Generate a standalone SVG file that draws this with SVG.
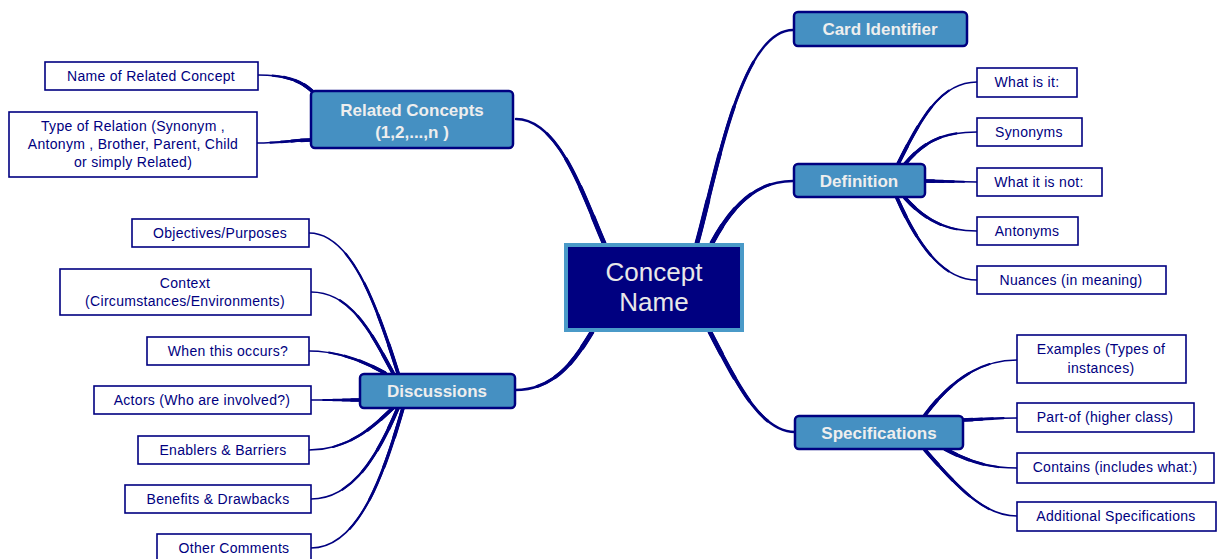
<svg xmlns="http://www.w3.org/2000/svg" xmlns:xlink="http://www.w3.org/1999/xlink" width="1222" height="559" viewBox="0 0 1222 559">
<style>
.c{fill:none;stroke:#000080;stroke-linecap:round}
.m0{stroke-width:2.4}
.m1{stroke-width:3;stroke-dasharray:78 300}
.m2{stroke-width:3.6;stroke-dasharray:58 300}
.m3{stroke-width:4.2;stroke-dasharray:38 300}
.m4{stroke-width:4.8;stroke-dasharray:18 300}
.l0{stroke-width:1.7}
.l1{stroke-width:2.2;stroke-dasharray:75 300}
.l2{stroke-width:2.7;stroke-dasharray:55 300}
.l3{stroke-width:3.2;stroke-dasharray:35 300}
.l4{stroke-width:3.7;stroke-dasharray:17 300}
.mbox{fill:#4590C2;stroke:#000080;stroke-width:2.5}
.mtxt{font-family:"Liberation Sans",Arial,sans-serif;font-weight:bold;font-size:17px;fill:#EEEEEE;text-anchor:middle}
.lbox{fill:#FFFFFF;stroke:#000080;stroke-width:1.6}
.ltxt{font-family:"Liberation Sans",Arial,sans-serif;font-size:14px;letter-spacing:0.3px;fill:#000080;text-anchor:middle}
.ctxt{font-family:"Liberation Sans",Arial,sans-serif;font-size:26px;fill:#E8E8E8;text-anchor:middle}
</style>
<defs>
<path id="m1" pathLength="100" d="M604,243 C585,200 560,119 516,119"/>
<path id="m2" pathLength="100" d="M697,243 C715,180 740,30 793,30"/>
<path id="m3" pathLength="100" d="M712,243 C735,200 760,181 793,181"/>
<path id="m4" pathLength="100" d="M710,332 C735,380 760,432 795,432"/>
<path id="m5" pathLength="100" d="M592,332 C575,360 555,390 515,390"/>
<path id="r1" pathLength="100" d="M312,91 C300,80 285,75 258,75"/>
<path id="r2" pathLength="100" d="M310,140 C295,140 280,143 257,143"/>
<path id="d1" pathLength="100" d="M898,164 C920,120 940,82 977,82"/>
<path id="d2" pathLength="100" d="M905,164 C925,140 945,132 977,132"/>
<path id="d3" pathLength="100" d="M925,181 L977,182"/>
<path id="d4" pathLength="100" d="M905,198 C925,220 945,231 977,231"/>
<path id="d5" pathLength="100" d="M897,198 C920,250 945,280 977,280"/>
<path id="s1" pathLength="100" d="M925,415 C955,375 985,360 1017,360"/>
<path id="s2" pathLength="100" d="M963,420 C985,419 1000,418 1017,418"/>
<path id="s3" pathLength="100" d="M945,449 C975,465 995,468 1017,468"/>
<path id="s4" pathLength="100" d="M925,450 C960,490 985,516 1017,516"/>
<path id="q1" pathLength="100" d="M398,373 C375,300 350,233 309,233"/>
<path id="q2" pathLength="100" d="M393,373 C370,330 350,292 311,292"/>
<path id="q3" pathLength="100" d="M385,373 C365,362 340,351 309,351"/>
<path id="q4" pathLength="100" d="M360,400 L311,400"/>
<path id="q5" pathLength="100" d="M393,408 C375,425 350,450 309,450"/>
<path id="q6" pathLength="100" d="M398,408 C380,450 355,499 311,499"/>
<path id="q7" pathLength="100" d="M403,408 C385,470 360,548 311,548"/>
</defs>
<rect width="1222" height="559" fill="#FFFFFF"/>
<g id="connectors">
<g class="c m0"><use xlink:href="#m1"/><use xlink:href="#m2"/><use xlink:href="#m3"/><use xlink:href="#m4"/><use xlink:href="#m5"/></g>
<g class="c m1"><use xlink:href="#m1"/><use xlink:href="#m2"/><use xlink:href="#m3"/><use xlink:href="#m4"/><use xlink:href="#m5"/></g>
<g class="c m2"><use xlink:href="#m1"/><use xlink:href="#m2"/><use xlink:href="#m3"/><use xlink:href="#m4"/><use xlink:href="#m5"/></g>
<g class="c m3"><use xlink:href="#m1"/><use xlink:href="#m2"/><use xlink:href="#m3"/><use xlink:href="#m4"/><use xlink:href="#m5"/></g>
<g class="c m4"><use xlink:href="#m1"/><use xlink:href="#m2"/><use xlink:href="#m3"/><use xlink:href="#m4"/><use xlink:href="#m5"/></g>
<g class="c l0"><use xlink:href="#r1"/><use xlink:href="#r2"/><use xlink:href="#d1"/><use xlink:href="#d2"/><use xlink:href="#d3"/><use xlink:href="#d4"/><use xlink:href="#d5"/><use xlink:href="#s1"/><use xlink:href="#s2"/><use xlink:href="#s3"/><use xlink:href="#s4"/><use xlink:href="#q1"/><use xlink:href="#q2"/><use xlink:href="#q3"/><use xlink:href="#q4"/><use xlink:href="#q5"/><use xlink:href="#q6"/><use xlink:href="#q7"/></g>
<g class="c l1"><use xlink:href="#r1"/><use xlink:href="#r2"/><use xlink:href="#d1"/><use xlink:href="#d2"/><use xlink:href="#d3"/><use xlink:href="#d4"/><use xlink:href="#d5"/><use xlink:href="#s1"/><use xlink:href="#s2"/><use xlink:href="#s3"/><use xlink:href="#s4"/><use xlink:href="#q1"/><use xlink:href="#q2"/><use xlink:href="#q3"/><use xlink:href="#q4"/><use xlink:href="#q5"/><use xlink:href="#q6"/><use xlink:href="#q7"/></g>
<g class="c l2"><use xlink:href="#r1"/><use xlink:href="#r2"/><use xlink:href="#d1"/><use xlink:href="#d2"/><use xlink:href="#d3"/><use xlink:href="#d4"/><use xlink:href="#d5"/><use xlink:href="#s1"/><use xlink:href="#s2"/><use xlink:href="#s3"/><use xlink:href="#s4"/><use xlink:href="#q1"/><use xlink:href="#q2"/><use xlink:href="#q3"/><use xlink:href="#q4"/><use xlink:href="#q5"/><use xlink:href="#q6"/><use xlink:href="#q7"/></g>
<g class="c l3"><use xlink:href="#r1"/><use xlink:href="#r2"/><use xlink:href="#d1"/><use xlink:href="#d2"/><use xlink:href="#d3"/><use xlink:href="#d4"/><use xlink:href="#d5"/><use xlink:href="#s1"/><use xlink:href="#s2"/><use xlink:href="#s3"/><use xlink:href="#s4"/><use xlink:href="#q1"/><use xlink:href="#q2"/><use xlink:href="#q3"/><use xlink:href="#q4"/><use xlink:href="#q5"/><use xlink:href="#q6"/><use xlink:href="#q7"/></g>
<g class="c l4"><use xlink:href="#r1"/><use xlink:href="#r2"/><use xlink:href="#d1"/><use xlink:href="#d2"/><use xlink:href="#d3"/><use xlink:href="#d4"/><use xlink:href="#d5"/><use xlink:href="#s1"/><use xlink:href="#s2"/><use xlink:href="#s3"/><use xlink:href="#s4"/><use xlink:href="#q1"/><use xlink:href="#q2"/><use xlink:href="#q3"/><use xlink:href="#q4"/><use xlink:href="#q5"/><use xlink:href="#q6"/><use xlink:href="#q7"/></g>
</g>
<g id="concept-name">
<rect x="566" y="245" width="176" height="85" fill="#000080" stroke="#4A9AC8" stroke-width="4"/>
<text class="ctxt" x="654" y="281">Concept</text>
<text class="ctxt" x="654" y="311">Name</text>
</g>
<g id="card-identifier">
<rect class="mbox" x="794" y="12" width="173" height="34" rx="4"/>
<text class="mtxt" x="880" y="35">Card Identifier</text>
</g>
<g id="related-concepts">
<rect class="mbox" x="311" y="91" width="202" height="57" rx="4"/>
<text class="mtxt" x="412" y="116">Related Concepts</text>
<text class="mtxt" x="412" y="138">(1,2,...,n )</text>
</g>
<g id="definition">
<rect class="mbox" x="794" y="164" width="131" height="33" rx="4"/>
<text class="mtxt" x="859" y="187">Definition</text>
</g>
<g id="specifications">
<rect class="mbox" x="795" y="416" width="168" height="33" rx="4"/>
<text class="mtxt" x="879" y="439">Specifications</text>
</g>
<g id="discussions">
<rect class="mbox" x="360" y="374" width="155" height="34" rx="4"/>
<text class="mtxt" x="437" y="397">Discussions</text>
</g>
<g id="name-of-related-concept">
<rect class="lbox" x="45" y="62" width="213" height="28"/>
<text class="ltxt" x="151" y="81">Name of Related Concept</text>
</g>
<g id="type-of-relation">
<rect class="lbox" x="9" y="112" width="248" height="65"/>
<text class="ltxt" x="133" y="131">Type of Relation (Synonym ,</text>
<text class="ltxt" x="133" y="149">Antonym , Brother, Parent, Child</text>
<text class="ltxt" x="133" y="167">or simply Related)</text>
</g>
<g id="what-is-it">
<rect class="lbox" x="977" y="68" width="100" height="29"/>
<text class="ltxt" x="1027" y="87">What is it:</text>
</g>
<g id="synonyms">
<rect class="lbox" x="977" y="118" width="105" height="28"/>
<text class="ltxt" x="1029" y="137">Synonyms</text>
</g>
<g id="what-it-is-not">
<rect class="lbox" x="977" y="168" width="125" height="28"/>
<text class="ltxt" x="1039" y="187">What it is not:</text>
</g>
<g id="antonyms">
<rect class="lbox" x="977" y="217" width="101" height="28"/>
<text class="ltxt" x="1027" y="236">Antonyms</text>
</g>
<g id="nuances">
<rect class="lbox" x="977" y="266" width="189" height="28"/>
<text class="ltxt" x="1071" y="285">Nuances (in meaning)</text>
</g>
<g id="examples">
<rect class="lbox" x="1017" y="335" width="169" height="48"/>
<text class="ltxt" x="1101" y="354">Examples (Types of</text>
<text class="ltxt" x="1101" y="373">instances)</text>
</g>
<g id="part-of">
<rect class="lbox" x="1017" y="403" width="177" height="29"/>
<text class="ltxt" x="1105" y="422">Part-of (higher class)</text>
</g>
<g id="contains">
<rect class="lbox" x="1017" y="453" width="197" height="30"/>
<text class="ltxt" x="1115" y="472">Contains (includes what:)</text>
</g>
<g id="additional-specifications">
<rect class="lbox" x="1017" y="502" width="199" height="29"/>
<text class="ltxt" x="1116" y="521">Additional Specifications</text>
</g>
<g id="objectives">
<rect class="lbox" x="132" y="219" width="177" height="28"/>
<text class="ltxt" x="220" y="238">Objectives/Purposes</text>
</g>
<g id="context">
<rect class="lbox" x="60" y="269" width="251" height="46"/>
<text class="ltxt" x="185" y="288">Context</text>
<text class="ltxt" x="185" y="306">(Circumstances/Environments)</text>
</g>
<g id="when-this-occurs">
<rect class="lbox" x="147" y="337" width="162" height="28"/>
<text class="ltxt" x="228" y="356">When this occurs?</text>
</g>
<g id="actors">
<rect class="lbox" x="94" y="386" width="217" height="28"/>
<text class="ltxt" x="202" y="405">Actors (Who are involved?)</text>
</g>
<g id="enablers-barriers">
<rect class="lbox" x="138" y="436" width="171" height="28"/>
<text class="ltxt" x="223" y="455">Enablers &amp; Barriers</text>
</g>
<g id="benefits-drawbacks">
<rect class="lbox" x="125" y="485" width="186" height="28"/>
<text class="ltxt" x="218" y="504">Benefits &amp; Drawbacks</text>
</g>
<g id="other-comments">
<rect class="lbox" x="157" y="534" width="154" height="30"/>
<text class="ltxt" x="234" y="553">Other Comments</text>
</g>
</svg>
